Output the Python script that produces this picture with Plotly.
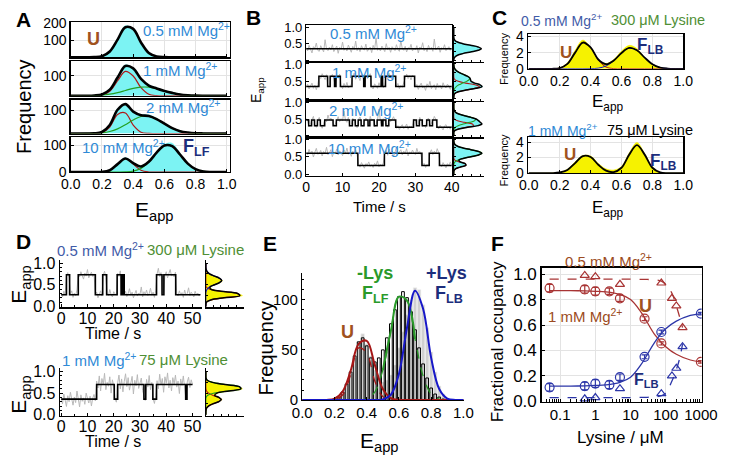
import plotly.graph_objects as go

W, H = 735, 467
FONT = "Liberation Sans, Arial, Helvetica, sans-serif"

# ======================= DATA =======================
e_grid = [0.00, 0.05, 0.10, 0.15, 0.20, 0.25, 0.30, 0.35, 0.40, 0.45, 0.50,
          0.55, 0.60, 0.65, 0.70, 0.75, 0.80, 0.85, 0.90, 0.95, 1.00]

# Panel A (frequency vs E_app)
a1_cyan  = [0,0,0,1,9,40,112,186,160,82,24,5,1,0,0,0,0,0,0,0,0]
a1_black = [0,0,0,0.6,6,34,104,177,167,87,25,4,0.3,0,0,0,0,0,0,0,0]
a2_cyan  = [0,0,0,2,8,36,98,156,135,82,56,40,27,15,8,3,1,0,0,0,0]
a2_black = [0,0,0.4,1.6,7,31,92,150,138,85,52,37,25,15,7,3,1,0.3,0,0,0]
a2_red   = [0,0,0,0.3,3.5,23,76,123,100,41,8,1,0,0,0,0,0,0,0,0,0]
a2_green = [0,0,0.4,1.3,3.6,8.4,16.5,27,38,44,43.6,36,25,14.6,7.2,3,1,0.3,0.1,0,0]
a3_cyan  = [0,0,0,1,7,38,108,122,92,82,80,64,44,24,11,4,1,0,0,0,0]
a3_black = [0,0,0.2,0.9,6.5,36.5,102,126,94,78.5,75.3,62,42,23,10,4,1,0.3,0,0,0]
a3_red   = [0,0,0,0.1,3.5,28,82,88,36,5.5,0.3,0,0,0,0,0,0,0,0,0,0]
a3_green = [0,0,0.2,0.8,3,8.5,20,38,58,73,75,62,42,23,10,4,1,0.3,0,0,0]
a4_cyan  = [0,0,0,0,1,9,33,54,36,22,42,77,104,108,70,34,12,3,0.5,0,0]
a4_black = [0,0,0,0,0.6,7,30,51,34,21,39,73,100,97,66,32,11,2.7,0.5,0,0]
a4_red   = [0,0,0,0,0.6,7,30,50,30,7,0.6,0,0,0,0,0,0,0,0,0,0]
a4_green = [0,0,0,0,0,0,0.1,0.7,3.6,14,38,73,100,97,66,32,11,2.7,0.5,0,0]

# Panel B time traces (40 s, 0.4 s frames)
b_duration = 40
b1_grey = [0.38,0.28,0.45,0.33,0.22,0.41,0.36,0.52,0.30,0.27,
           0.44,0.35,0.25,0.62,0.34,0.29,0.40,0.31,0.47,0.26,
           0.36,0.43,0.21,0.39,0.33,0.55,0.30,0.37,0.28,0.46,
           0.35,0.24,0.42,0.32,0.58,0.29,0.38,0.26,0.44,0.34,
           0.31,0.49,0.27,0.36,0.40,0.23,0.45,0.33,0.68,0.30,
           0.37,0.28,0.43,0.35,0.26,0.50,0.32,0.39,0.24,0.41,
           0.36,0.29,0.47,0.33,0.27,0.60,0.35,0.30,0.42,0.25,
           0.38,0.34,0.48,0.28,0.36,0.31,0.44,0.22,0.40,0.35,
           0.53,0.29,0.37,0.26,0.45,0.33,0.39,0.27,0.64,0.31,
           0.36,0.43,0.24,0.38,0.34,0.47,0.29,0.35,0.41,0.30,0.36]
b1_step_t = [0, 40]
b1_step_e = [0.35, 0.35]

b2_grey = [0.33,0.42,0.28,0.37,0.45,0.30,0.39,0.26,0.41,
           0.66,0.58,0.72,0.61,0.55,0.69,
           0.34,0.40,
           0.63,0.70,0.57,
           0.36,
           0.64,0.59,0.71,
           0.38,0.29,0.44,0.33,0.47,0.31,0.36,0.42,
           0.60,0.74,0.56,0.66,0.62,0.52,0.70,0.64,
           0.37,
           0.68,0.58,0.63,0.72,
           0.34,0.28,0.43,0.37,0.30,0.46,0.35,
           0.61,
           0.32,0.40,
           0.67,0.57,0.73,0.62,0.55,0.69,0.60,
           0.36,0.44,0.29,0.38,0.33,0.47,
           0.63,0.71,0.58,0.66,0.54,0.68,0.62,
           0.34,0.41,0.27,0.38,0.45,0.31,0.36,0.24,0.43,0.35,0.50,0.29,0.37,
           0.40,0.26,0.44,0.33,0.39,0.28,0.46,0.35,0.31,0.42,0.36,0.27,0.38]
b2_step_t = [0,3.5,5.9,6.6,7.8,8.2,9.4,12.6,15.8,16.2,17.8,20.6,21.0,21.8,24.6,27.0,29.8,40]
b2_step_e = [0.35,0.65,0.35,0.65,0.35,0.65,0.35,0.65,0.35,0.65,0.35,0.65,0.35,0.65,0.35,0.65,0.35,0.35]

b3_grey = [0.52,0.44,0.27,0.34,0.49,0.58,0.31,0.25,0.46,0.55,
           0.33,0.22,0.36,0.50,0.41,0.62,0.47,0.53,0.43,0.29,
           0.35,0.48,0.57,0.42,0.51,0.45,0.74,0.46,0.40,0.55,
           0.28,0.33,0.52,0.45,0.30,0.24,0.49,0.56,0.32,0.27,
           0.45,0.53,0.47,0.31,0.58,0.44,0.50,0.26,0.34,0.47,
           0.80,0.43,0.30,0.51,0.46,0.33,0.25,0.54,0.42,0.49,
           0.57,0.45,0.22,0.30,0.18,0.27,0.33,0.21,0.26,0.35,
           0.19,0.28,0.24,0.31,0.50,0.46,0.29,0.34,0.55,0.44,
           0.27,0.32,0.24,0.48,0.53,0.30,0.36,0.45,0.58,0.49,
           0.26,0.20,0.31,0.24,0.17,0.29,0.33,0.22,0.27,0.19,0.30]
b3_step_t = [0,0.7,1.5,2.3,3.1,3.9,5.1,7.4,8.3,11.9,12.7,13.5,14.3,15.1,15.9,17.0,17.5,
             18.7,19.5,20.7,21.1,21.9,22.7,24.6,29.5,30.3,31.1,31.9,33.1,33.9,34.7,35.9,40]
b3_step_e = [0.47,0.30,0.47,0.30,0.47,0.30,0.47,0.30,0.47,0.30,0.47,0.30,0.47,0.30,0.47,0.30,0.47,
             0.30,0.47,0.30,0.47,0.30,0.47,0.25,0.47,0.30,0.47,0.30,0.47,0.30,0.47,0.25,0.25]

b4_grey = [0.62,0.55,0.71,0.58,0.66,0.49,0.63,0.74,0.57,0.60,
           0.68,0.52,0.65,0.59,0.77,0.56,0.61,0.70,0.50,0.64,
           0.58,0.72,0.55,0.67,0.61,0.53,0.69,0.60,0.75,0.57,
           0.63,0.51,0.66,0.59,0.70,0.56,
           0.28,0.20,0.33,0.24,0.17,0.30,0.26,0.35,0.22,0.27,0.19,0.31,0.25,0.38,0.21,0.29,0.23,0.32,
           0.61,0.68,0.54,0.72,0.59,0.65,0.50,0.63,0.77,0.57,0.62,0.70,0.55,0.66,0.60,0.73,0.52,0.64,
           0.58,0.69,0.61,0.56,0.74,0.60,0.65,0.53,
           0.26,0.31,0.19,0.28,0.23,
           0.62,0.70,0.56,0.66,0.59,0.73,0.61,
           0.27,0.21,0.33,0.25,0.18,0.30,0.24,0.35,0.26]
b4_step_t = [0,14.2,21.5,31.8,33.8,36.6,40]
b4_step_e = [0.60,0.25,0.60,0.25,0.60,0.25,0.25]

# Panel B side histograms (relative counts vs E_app)
b1_side_cyan  = [0.003,0.012,0.05,0.15,0.31,0.62,0.90,0.97,0.86,0.62,0.34,0.13,0.05,0.015,0.004,0,0,0,0,0,0]
b1_side_black = [0.002,0.011,0.044,0.135,0.325,0.607,0.882,1.0,0.882,0.607,0.325,0.135,0.044,0.011,0.002,0,0,0,0,0,0]
b2_side_cyan  = [0,0,0.01,0.04,0.15,0.40,0.72,0.90,0.80,0.63,0.56,0.50,0.48,0.40,0.28,0.17,0.08,0.03,0.01,0,0]
b2_side_black = [0,0,0.006,0.035,0.14,0.38,0.69,0.88,0.82,0.65,0.54,0.52,0.50,0.42,0.30,0.18,0.09,0.04,0.014,0.004,0]
b2_side_red   = [0,0,0.006,0.035,0.14,0.37,0.66,0.80,0.66,0.37,0.14,0.035,0.006,0,0,0,0,0,0,0,0]
b2_side_green = [0,0,0,0,0.003,0.011,0.033,0.08,0.16,0.28,0.40,0.48,0.49,0.42,0.30,0.18,0.09,0.04,0.014,0.004,0]
b3_side_cyan  = [0,0,0.01,0.05,0.17,0.43,0.74,0.80,0.76,0.75,0.63,0.49,0.30,0.14,0.06,0.02,0.005,0,0,0,0]
b3_side_black = [0,0,0,0.03,0.15,0.41,0.71,0.83,0.78,0.73,0.66,0.51,0.32,0.15,0.058,0.017,0.004,0,0,0,0]
b3_side_red   = [0,0,0,0.03,0.14,0.36,0.58,0.55,0.31,0.11,0.02,0,0,0,0,0,0,0,0,0,0]
b3_side_green = [0,0,0,0,0.013,0.046,0.13,0.28,0.47,0.62,0.64,0.51,0.32,0.15,0.058,0.017,0.004,0,0,0,0]
b4_side_cyan  = [0,0,0.01,0.07,0.25,0.42,0.39,0.22,0.19,0.35,0.63,0.86,0.97,0.90,0.60,0.31,0.12,0.04,0.01,0,0]
b4_side_black = [0,0,0.008,0.06,0.23,0.43,0.41,0.23,0.18,0.33,0.61,0.88,1.0,0.88,0.61,0.33,0.135,0.044,0.011,0.002,0]
b4_side_red   = [0,0,0.008,0.06,0.23,0.43,0.40,0.19,0.04,0.005,0,0,0,0,0,0,0,0,0,0,0]
b4_side_green = [0,0,0,0,0,0,0.011,0.044,0.135,0.325,0.607,0.882,1.0,0.882,0.607,0.325,0.135,0.044,0.011,0.002,0]

# Panel C
c1_yellow = [0,0,0,0.02,0.12,0.75,2.3,3.55,2.55,1.05,0.65,1.15,2.2,2.9,2.5,1.35,0.5,0.12,0.02,0,0]
c1_black  = [0,0,0,0,0.09,0.61,2.0,3.25,2.65,1.15,0.57,1.03,1.96,2.58,2.29,1.38,0.56,0.16,0.03,0,0]
c1_red    = [0,0,0,0,0.09,0.61,2.0,3.25,2.64,1.07,0.22,0.02,0,0,0,0,0,0,0,0,0]
c1_blue   = [0,0,0,0,0,0,0,0,0.013,0.083,0.35,1.01,1.96,2.58,2.29,1.38,0.56,0.16,0.03,0,0]
c2_yellow = [0,0,0,0.02,0.1,0.5,1.45,2.25,2.2,1.25,0.55,0.4,0.85,2.6,3.95,2.5,0.8,0.12,0.01,0,0]
c2_black  = [0,0,0,0,0.08,0.41,1.29,2.19,2.07,1.08,0.31,0.14,0.69,2.38,3.6,2.38,0.69,0.09,0,0,0]

# Panel D time traces
d1_duration = 53
d1_grey = [0.30,0.22,0.35,0.26,
           0.70,0.78,0.66,
           0.29,0.36,0.21,0.31,0.25,0.38,
           0.74,0.68,0.80,0.71,0.63,0.77,0.70,0.85,0.66,0.73,0.79,0.69,0.75,
           0.28,0.33,0.20,0.30,0.36,0.24,
           0.72,0.81,0.67,
           0.31,0.25,0.39,0.27,0.22,0.34,0.29,0.26,
           0.76,0.69,0.82,
           0.32,
           0.71,
           0.27,0.35,0.23,0.30,0.41,0.26,0.33,0.20,0.29,0.37,0.24,0.31,0.28,0.45,0.22,0.34,
           0.27,0.38,0.25,0.30,0.42,0.26,0.33,0.21,0.36,
           0.75,0.88,0.69,0.78,
           0.30,
           0.34,
           0.72,0.80,0.66,0.76,0.85,0.70,0.74,0.68,0.79,
           0.29,0.24,0.36,0.27,0.32,0.21,0.38,0.26,0.30,0.43,0.25,0.33,0.28,0.22,0.35,0.27,0.31,0.24,0.29]
d1_step_t = [0,2.0,3.2,6.5,13.0,15.8,17.3,21.3,22.8,23.4,24.0,36.3,38.4,39.1,43.6,53]
d1_step_e = [0.27,0.73,0.27,0.73,0.27,0.73,0.27,0.73,0.27,0.73,0.27,0.73,0.27,0.73,0.27,0.27]

d2_duration = 50
d2_grey = [0.40,0.25,0.48,0.33,0.19,0.44,0.30,0.52,0.36,0.22,0.41,0.28,0.55,0.34,0.18,0.46,0.31,
           0.39,0.24,0.50,0.35,0.27,0.43,0.20,0.38,0.47,0.32,
           0.78,0.62,0.90,0.55,0.84,0.70,0.96,0.58,0.75,0.66,0.88,0.50,0.81,0.68,
           0.38,0.29,
           0.74,0.92,0.60,0.83,0.53,0.77,0.95,0.65,0.86,0.57,0.72,0.89,0.48,0.80,0.67,0.93,0.61,0.76,0.85,0.56,
           0.40,0.33,
           0.82,0.64,0.91,0.58,0.75,
           0.37,0.26,0.44,
           0.79,0.60,0.94,0.69,0.84,0.52,0.88,0.73,0.97,0.62,0.80,0.55,0.86,0.71,0.92,0.64,0.78,0.49,0.83,0.68,0.90,0.59,
           0.35,
           0.76,0.87,0.63,0.81,0.70]
d2_step_t = [0,13.5,20.2,21.5,31.5,32.2,34.9,36.3,47.4,47.9,50]
d2_step_e = [0.36,0.70,0.36,0.70,0.36,0.70,0.36,0.70,0.36,0.70,0.70]

d1_side_yellow = [0,0.003,0.03,0.16,0.50,0.97,0.80,0.38,0.16,0.13,0.24,0.39,0.44,0.33,0.22,0.09,0.03,0.01,0,0,0]
d1_side_black  = [0,0.002,0.017,0.13,0.48,0.90,0.84,0.40,0.13,0.11,0.23,0.36,0.42,0.36,0.23,0.10,0.036,0.009,0,0,0]
d1_side_red    = [0,0.002,0.017,0.13,0.48,0.90,0.84,0.39,0.09,0.01,0,0,0,0,0,0,0,0,0,0,0]
d1_side_blue   = [0,0,0,0,0,0,0,0.009,0.036,0.10,0.23,0.36,0.42,0.36,0.23,0.10,0.036,0.009,0,0,0]
d2_side_yellow = [0,0,0.01,0.03,0.08,0.17,0.31,0.42,0.33,0.24,0.31,0.62,0.95,0.84,0.48,0.18,0.04,0.01,0,0,0]
d2_side_black  = [0,0,0.004,0.018,0.07,0.18,0.33,0.40,0.34,0.23,0.29,0.60,0.91,0.87,0.50,0.17,0.035,0.004,0,0,0]
d2_side_red    = [0,0,0.004,0.018,0.07,0.18,0.33,0.40,0.33,0.18,0.07,0.018,0.003,0,0,0,0,0,0,0,0]
d2_side_green  = [0,0,0,0,0,0,0,0,0.007,0.05,0.22,0.58,0.91,0.87,0.50,0.17,0.035,0.004,0,0,0]

# Panel E
e_bins = [0.200,0.225,0.250,0.275,0.300,0.325,0.350,0.375,0.400,0.425,0.450,0.475,0.500,0.525,0.550,
          0.575,0.600,0.625,0.650,0.675,0.700,0.725,0.750,0.775,0.800,0.825,0.850,0.875,0.900]
e_hist_plus_lys  = [1,3,8,15,26,42,58,66,56,44,30,22,18,20,25,35,52,68,85,100,112,110,95,72,48,28,14,6,2]
e_hist_minus_lys = [1,3,8,16,28,44,58,62,54,42,38,42,50,62,76,90,103,108,102,88,70,52,36,22,12,6,3,1,0]
e_red      = [0,0,0,0.1,1.3,8.4,29,56,59,35,11,2,0.2,0,0,0,0,0,0,0,0]
e_red_dash = [0,0,0,0,0.2,5,25,52,47,19,3.4,0.2,0,0,0,0,0,0,0,0,0]
e_green    = [0,0,0,0,0,0,0,0,1.5,8,30,69,103,99,61,24,6,1,0.1,0,0]
e_blue     = [0,0,0,0,0,0,0,0,0,0,0.6,5.3,26,72,109,91,42,11,1.5,0.1,0]

# Panel F
f_conc_1mM = [0.05, 0.5, 1, 2.5, 5, 25, 75, 1000]
f_u_1mM = [0.89, 0.88, 0.865, 0.865, 0.81, 0.65, 0.455, 0.31]
f_u_1mM_err = [0.03, 0.03, 0.03, 0.025, 0.025, 0.015, 0.012, 0.01]
f_flb_1mM = [0.11, 0.12, 0.14, 0.13, 0.19, 0.35, 0.545, 0.69]
f_flb_1mM_err = [0.03, 0.03, 0.03, 0.03, 0.025, 0.015, 0.015, 0.01]
f_conc_05mM = [0.5, 1, 5, 75, 150, 200, 300]
f_u_05mM = [0.99, 0.98, 0.92, 0.93, 0.81, 0.75, 0.58]
f_flb_05mM = [0.02, 0.03, 0.10, 0.06, 0.20, 0.26, 0.43]
f_fit_x_1mM = [0.05, 0.1, 0.2, 0.5, 1, 2, 5, 10, 20, 50, 100, 200, 500, 1000]
f_fit_u_1mM = [0.87, 0.87, 0.87, 0.868, 0.865, 0.86, 0.84, 0.80, 0.70, 0.52, 0.43, 0.37, 0.325, 0.31]
f_fit_flb_1mM = [0.12, 0.12, 0.12, 0.122, 0.125, 0.13, 0.15, 0.19, 0.29, 0.47, 0.57, 0.63, 0.675, 0.69]
f_fit_x_05mM = [0.05, 0.1, 1, 10, 30, 50, 75, 100, 150, 200, 250, 300]
f_fit_u_05mM = [0.96, 0.96, 0.96, 0.96, 0.958, 0.955, 0.945, 0.92, 0.85, 0.75, 0.66, 0.58]
f_fit_flb_05mM = [0.03, 0.03, 0.03, 0.03, 0.032, 0.035, 0.045, 0.065, 0.16, 0.25, 0.34, 0.45]
f_xticks = [0.1, 1, 10, 100, 1000]
f_xticktext = ["0.1", "1", "10", "100", "1000"]

# ======================= STYLE =======================
CYAN = "#7cf3f3"
YELLOW = "#f6f200"
GREY = "#b9b9b9"
FIT_RED = "#b01818"
FIT_GREEN = "#22a022"
E_RED = "#a51616"
E_GREEN = "#2a9a2a"
E_BLUE = "#1717c8"
F_RED = "#a83434"
F_BLUE = "#2c36a8"
LIGHT_BLUE = "#2f8ad6"
DARK_BLUE = "#3f5ba8"
GREEN_TXT = "#4f8f35"
BROWN = "#a0521e"
NAVY = "#1c2d7c"

fig = go.Figure()
axes_layout = {}
counter = [0]


def new_axes(xbox, ybox, xkw, ykw):
    counter[0] += 1
    n = counter[0]
    s = "" if n == 1 else str(n)
    xkw = dict(xkw)
    ykw = dict(ykw)
    xkw.update(domain=[xbox[0] / W, xbox[1] / W], anchor="y" + s)
    ykw.update(domain=[1 - ybox[1] / H, 1 - ybox[0] / H], anchor="x" + s)
    axes_layout["xaxis" + s] = xkw
    axes_layout["yaxis" + s] = ykw
    return ("x" + s, "y" + s)


def axis(rng, tickvals=None, ticktext=None, labels=True, mirror=True, grid=False,
         ticks="inside", ticklen=3, size=13, lw=1.3, type_=None, minor=None, standoff=None):
    d = dict(range=rng, showline=True, linecolor="black", linewidth=lw, mirror=mirror,
             ticks=ticks, ticklen=ticklen, tickwidth=1, tickcolor="black",
             showgrid=grid, gridcolor="#e3e3e3", gridwidth=1, zeroline=False,
             showticklabels=labels, fixedrange=True,
             tickfont=dict(family=FONT, size=size, color="black"))
    if tickvals is not None:
        d["tickvals"] = tickvals
        d["ticktext"] = ticktext if ticktext is not None else [str(v) for v in tickvals]
    if type_:
        d["type"] = type_
    if minor:
        d["minor"] = minor
    if standoff is not None:
        d["ticklabelstandoff"] = standoff
    return d


def line(ax, x, y, color, width=1.5, dash=None, shape="spline"):
    fig.add_trace(go.Scatter(x=x, y=y, xaxis=ax[0], yaxis=ax[1], mode="lines",
                             line=dict(color=color, width=width, dash=dash, shape=shape),
                             hoverinfo="skip"))


def area(ax, x, y, color, horizontal=False):
    fig.add_trace(go.Scatter(x=x, y=y, xaxis=ax[0], yaxis=ax[1], mode="lines",
                             fill="tozerox" if horizontal else "tozeroy", fillcolor=color,
                             line=dict(color=color, width=0.5, shape="spline"),
                             hoverinfo="skip"))


def grey_trace(ax, values, duration, color=GREY):
    fig.add_trace(go.Scatter(x0=0, dx=duration / (len(values) - 1), y=values,
                             xaxis=ax[0], yaxis=ax[1], mode="lines",
                             line=dict(color=color, width=1), hoverinfo="skip"))


annotations = []


def T(x, y, text, size, color="black", bold=False, xanchor="center", angle=0):
    if bold:
        text = "<b>" + text + "</b>"
    annotations.append(dict(x=x / W, y=1 - y / H, xref="paper", yref="paper", text=text,
                            showarrow=False, font=dict(family=FONT, size=size, color=color),
                            xanchor=xanchor, yanchor="middle", textangle=angle))


E_TICKS = [0, 0.2, 0.4, 0.6, 0.8, 1.0]
E_TEXT = ["0.0", "0.2", "0.4", "0.6", "0.8", "1.0"]
MG = "Mg<sup>2+</sup>"
EAPP = "E<sub>app</sub>"

# ======================= PANEL A =======================
a_boxes = [(16, 52), (56, 92), (96, 131), (135, 171)]
a_ranges = [[0, 205], [0, 175], [0, 145], [0, 130]]
a_ticks = [[100, 200], [100], [100], [0, 100]]
a_sets = [
    (a1_cyan, a1_black, None, None),
    (a2_cyan, a2_black, a2_red, a2_green),
    (a3_cyan, a3_black, a3_red, a3_green),
    (a4_cyan, a4_black, a4_red, a4_green),
]
for i in range(4):
    ax = new_axes((63, 228), a_boxes[i],
                  axis([0, 1.02], E_TICKS, E_TEXT, labels=(i == 3), grid=True, size=14, standoff=-1),
                  axis(a_ranges[i], a_ticks[i], labels=True, grid=True, size=14))
    cy, bk, rd, gr = a_sets[i]
    area(ax, e_grid, cy, CYAN)
    if rd is not None:
        line(ax, e_grid, rd, FIT_RED, 1.2)
        line(ax, e_grid, gr, FIT_GREEN, 1.2)
    line(ax, e_grid, bk, "black", 2.6)

T(14, 13, "<b>A</b>", 21)
T(15, 103, "Frequency", 20, angle=-90)
T(150, 211, EAPP, 21)
T(87, 33, "U", 18, BROWN, bold=True)
T(183, 23, "0.5 mM " + MG, 15, LIGHT_BLUE)
T(177, 65, "1 mM " + MG, 15, LIGHT_BLUE)
T(180, 103, "2 mM " + MG, 15, LIGHT_BLUE)
T(118, 144, "10 mM " + MG, 15, LIGHT_BLUE)
T(193, 146, "F<sub>LF</sub>", 18, NAVY, bold=True)

# ======================= PANEL B =======================
b_boxes = [(19, 57), (57, 97), (97, 135), (135, 175)]
b_grey = [b1_grey, b2_grey, b3_grey, b4_grey]
b_steps = [(b1_step_t, b1_step_e), (b2_step_t, b2_step_e), (b3_step_t, b3_step_e), (b4_step_t, b4_step_e)]
b_side = [
    (b1_side_cyan, b1_side_black, None, None, 1.08),
    (b2_side_cyan, b2_side_black, b2_side_red, b2_side_green, 0.93),
    (b3_side_cyan, b3_side_black, b3_side_red, b3_side_green, 0.88),
    (b4_side_cyan, b4_side_black, b4_side_red, b4_side_green, 1.06),
]
B_YR = [-0.055, 1.055]
for i in range(4):
    ytext = ["0.0" if i == 3 else " ", "0.5", "1.0"]
    ax = new_axes((307, 458), b_boxes[i],
                  axis([0, 40], [0, 10, 20, 30, 40], labels=(i == 3), size=14, standoff=-2),
                  axis(B_YR, [0, 0.5, 1.0], ytext, size=13))
    grey_trace(ax, b_grey[i], b_duration)
    line(ax, b_steps[i][0], b_steps[i][1], "black", 1.5, shape="hv")

    cy, bk, rd, gr, xr = b_side[i]
    axs = new_axes((460, 491), b_boxes[i],
                   axis([0, xr], [0.3 * xr, 0.6 * xr, 0.9 * xr], labels=False, mirror=False, ticklen=2),
                   axis(B_YR, [0, 0.25, 0.5, 0.75, 1.0], labels=False, mirror=False, ticklen=2))
    area(axs, cy, e_grid, CYAN, horizontal=True)
    if rd is not None:
        line(axs, rd, e_grid, FIT_RED, 1.1)
        line(axs, gr, e_grid, FIT_GREEN, 1.1)
    line(axs, bk, e_grid, "black", 1.5)

T(252, 11, "<b>B</b>", 21)
T(256, 86, EAPP, 14, angle=-90)
T(383, 207, "Time / s", 15)
T(377, 26, "0.5 mM " + MG, 15, LIGHT_BLUE)
T(373, 67, "1 mM " + MG, 15, LIGHT_BLUE)
T(370, 106, "2 mM " + MG, 15, LIGHT_BLUE)
T(373, 146, "10 mM " + MG, 15, LIGHT_BLUE)

# ======================= PANEL C =======================
axc1 = new_axes((537, 698), (28, 64),
                axis([-0.005, 1.0], E_TICKS, E_TEXT, grid=True, size=14, standoff=-1),
                axis([0, 4.3], [0, 2, 4], grid=True, size=14))
area(axc1, e_grid, c1_yellow, YELLOW)
line(axc1, e_grid, c1_red, FIT_RED, 1.0)
line(axc1, e_grid, c1_blue, E_BLUE, 1.0)
line(axc1, e_grid, c1_black, "black", 1.8)

axc2 = new_axes((537, 698), (135, 172),
                axis([-0.005, 1.0], E_TICKS, E_TEXT, grid=True, size=14, standoff=-1),
                axis([0, 4.6], [0, 2, 4], grid=True, size=14))
area(axc2, e_grid, c2_yellow, YELLOW)
line(axc2, e_grid, c2_black, "black", 1.8)

T(507, 11, "<b>C</b>", 21)
T(528, 13, "0.5 mM " + MG, 14, DARK_BLUE, xanchor="left")
T(621, 13, "300 μM Lysine", 14.5, GREEN_TXT, xanchor="left")
T(512, 54, "Frequency", 11, angle=-90)
T(620, 99, EAPP, 17)
T(576, 47, "U", 17, BROWN, bold=True)
T(664, 40, "F<sub>LB</sub>", 17, NAVY, bold=True)
T(535, 127, "1 mM " + MG, 14, LIGHT_BLUE, xanchor="left")
T(617, 127, "75 μM Lysine", 14.5, "black", xanchor="left")
T(512, 159, "Frequency", 11, angle=-90)
T(620, 209, EAPP, 17)
T(581, 153, "U", 17, BROWN, bold=True)
T(677, 160, "F<sub>LB</sub>", 17, NAVY, bold=True)

# ======================= PANEL D =======================
d_sets = [
    ((262, 311), [-0.02, 1.07], d1_grey, d1_duration, d1_step_t, d1_step_e,
     d1_side_yellow, d1_side_black, d1_side_red, d1_side_blue, E_BLUE, 1.02),
    ((374, 423), [-0.02, 1.08], d2_grey, d2_duration, d2_step_t, d2_step_e,
     d2_side_yellow, d2_side_black, d2_side_red, d2_side_green, FIT_GREEN, 1.0),
]
for box, yr, gry, dur, st, se, sy, sb, sr, sc, scol, sxr in d_sets:
    ax = new_axes((52, 199), box,
                  axis([-0.4, 53.6], [0, 10, 20, 30, 40, 50], mirror=False, size=16, lw=1.5,
                       minor=dict(ticks="inside", ticklen=2, dtick=5, tickcolor="black"), standoff=-4),
                  axis(yr, [0, 0.5, 1.0], ["0.0", "0.5", "1.0"], mirror=False, size=16, lw=1.5,
                       minor=dict(ticks="inside", ticklen=2, dtick=0.1, tickcolor="black")))
    grey_trace(ax, gry, dur)
    line(ax, st, se, "black", 1.6, shape="hv")
    axs = new_axes((203, 243), box,
                   axis([0, sxr], [0.2, 0.4, 0.6, 0.8], labels=False, mirror=False, ticklen=2),
                   axis(yr, [0, 0.25, 0.5, 0.75, 1.0], labels=False, mirror=False, ticklen=2))
    area(axs, sy, e_grid, YELLOW, horizontal=True)
    line(axs, sr, e_grid, FIT_RED, 1.1)
    line(axs, sc, e_grid, scol, 1.1)
    line(axs, sb, e_grid, "black", 1.5)

T(14, 243, "<b>D</b>", 21)
T(47, 251, "0.5 mM " + MG, 15, DARK_BLUE, xanchor="left")
T(140, 251, "300 μM Lysine", 15, GREEN_TXT, xanchor="left")
T(11, 287, EAPP, 21, angle=-90)
T(107, 338, "Time / s", 16)
T(52, 365, "1 mM " + MG, 15, LIGHT_BLUE, xanchor="left")
T(132, 365, "75 μM Lysine", 15, GREEN_TXT, xanchor="left")
T(11, 401, EAPP, 21, angle=-90)
T(107, 450, "Time / s", 16)

# ======================= PANEL E =======================
axe = new_axes((303, 471), (275, 407),
               axis([0, 1.006], E_TICKS, E_TEXT, mirror=False, size=15, lw=1.3, standoff=-1),
               axis([0, 127], [0, 50, 100], mirror=False, size=15, lw=1.3,
                    minor=dict(ticks="inside", ticklen=2, dtick=10, tickcolor="black")))
fig.add_trace(go.Bar(x=e_bins, y=e_hist_plus_lys, width=0.022, xaxis=axe[0], yaxis=axe[1],
                     marker=dict(color="#d0d0d0", line=dict(color="#f2f2f2", width=0.6)),
                     hoverinfo="skip"))
fig.add_trace(go.Bar(x=e_bins, y=e_hist_minus_lys, width=0.017, xaxis=axe[0], yaxis=axe[1],
                     marker=dict(color="rgba(0,0,0,0)", line=dict(color="black", width=1)),
                     hoverinfo="skip"))
line(axe, e_grid, e_red_dash, E_RED, 1.3, dash="dash")
line(axe, e_grid, e_green, E_GREEN, 1.3, dash="dash")
line(axe, e_grid, e_red, E_RED, 2.0)
line(axe, e_grid[10:15], e_green[10:15], E_GREEN, 2.0)
line(axe, e_grid, e_blue, E_BLUE, 2.0)

T(270, 245, "<b>E</b>", 21)
T(265, 353, "Frequency", 20, angle=-90)
T(383, 450, EAPP, 21)
T(378, 275, "-Lys", 18, E_GREEN, bold=True)
T(379, 298, "F<sub>LF</sub>", 18, E_GREEN, bold=True)
T(453, 275, "+Lys", 18, NAVY, bold=True)
T(455, 298, "F<sub>LB</sub>", 18, NAVY, bold=True)
T(350, 337, "U", 18, BROWN, bold=True)

# ======================= PANEL F =======================
axf = new_axes((551, 717), (270, 409),
               axis([-1.53, 3.02], f_xticks, f_xticktext, grid=True, size=15, type_="log",
                    minor=dict(ticks="inside", ticklen=3, dtick="D1", tickcolor="black", showgrid=False),
                    standoff=-1),
               axis([-0.005, 1.05], [0, 0.2, 0.4, 0.6, 0.8, 1.0],
                    ["0.0", "0.2", "0.4", "0.6", "0.8", "1.0"], grid=True, size=17))
line(axf, f_fit_x_05mM, f_fit_u_05mM, F_RED, 1.3, dash="dash")
line(axf, f_fit_x_05mM, f_fit_flb_05mM, F_BLUE, 1.3, dash="dash")
line(axf, f_fit_x_1mM, f_fit_u_1mM, F_RED, 1.3)
line(axf, f_fit_x_1mM, f_fit_flb_1mM, F_BLUE, 1.3)
fig.add_trace(go.Scatter(x=f_conc_05mM, y=f_u_05mM, xaxis=axf[0], yaxis=axf[1], mode="markers",
                         marker=dict(symbol="triangle-up-open", size=8, color=F_RED, line=dict(width=1.2)),
                         hoverinfo="skip"))
fig.add_trace(go.Scatter(x=f_conc_05mM, y=f_flb_05mM, xaxis=axf[0], yaxis=axf[1], mode="markers",
                         marker=dict(symbol="triangle-up-open", size=8, color=F_BLUE, line=dict(width=1.2)),
                         hoverinfo="skip"))
fig.add_trace(go.Scatter(x=f_conc_1mM, y=f_u_1mM, xaxis=axf[0], yaxis=axf[1], mode="markers",
                         error_y=dict(type="data", array=f_u_1mM_err, color=F_RED, thickness=1.2, width=3),
                         marker=dict(symbol="circle-open", size=9, color=F_RED, line=dict(width=1.2)),
                         hoverinfo="skip"))
fig.add_trace(go.Scatter(x=f_conc_1mM, y=f_flb_1mM, xaxis=axf[0], yaxis=axf[1], mode="markers",
                         error_y=dict(type="data", array=f_flb_1mM_err, color=F_BLUE, thickness=1.2, width=3),
                         marker=dict(symbol="circle-open", size=9, color=F_BLUE, line=dict(width=1.2)),
                         hoverinfo="skip"))

T(505, 245, "<b>F</b>", 21)
T(505, 347, "Fractional occupancy", 17, angle=-90)
T(633, 446, "Lysine / μM", 17)
T(620, 262, "0.5 mM " + MG, 15, "#9c4b22")
T(597, 319, "1 mM " + MG, 15, "#9c4b22")
T(659, 310, "U", 18, BROWN, bold=True)
T(660, 387, "F<sub>LB</sub>", 16, NAVY, bold=True)

fig.update_layout(width=W, height=H, margin=dict(l=0, r=0, t=0, b=0),
                  paper_bgcolor="white", plot_bgcolor="white", showlegend=False,
                  barmode="overlay", bargap=0, annotations=annotations,
                  font=dict(family=FONT, color="black"), **axes_layout)

fig.write_html("out.html", config={"displayModeBar": False, "staticPlot": True},
               post_script="document.body.style.margin='0px';document.body.style.overflow='hidden';")
